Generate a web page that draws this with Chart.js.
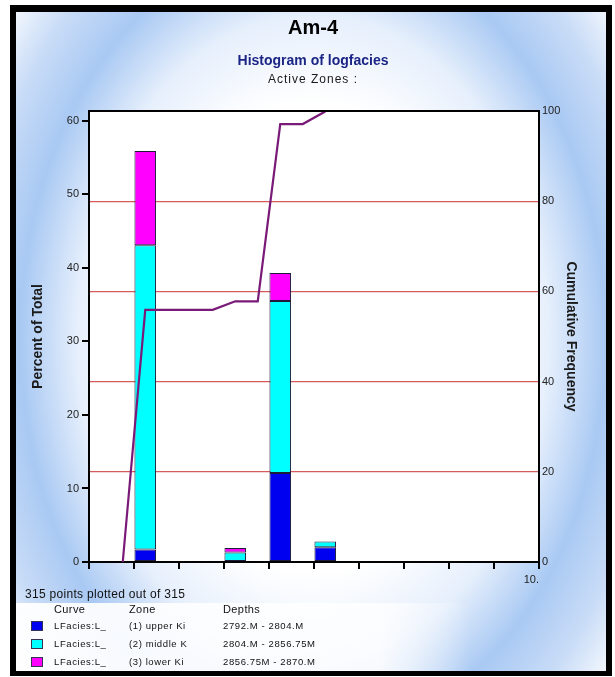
<!DOCTYPE html>
<html>
<head>
<meta charset="utf-8">
<script src="https://cdn.jsdelivr.net/npm/chart.js@4.4.1/dist/chart.umd.min.js"></script>
<style>
  html, body { margin: 0; padding: 0; background: #ffffff; }
  canvas { display: block; }
</style>
</head>
<body>
<canvas id="histo" width="615" height="677"></canvas>
<script>
// ---- chart content ----
const chartTitle = 'Am-4';
const chartSubtitle = 'Histogram of logfacies';
const zoneCaption = 'Active Zones :';
const pointsNote = '315 points plotted out of 315';

// facies classes that hold samples, and percent of total per zone
const faciesBins = [1, 3, 4, 5];
const upperKi  = [1.7, 0.0, 12.1, 2.0];
const middleK  = [41.4, 1.3, 23.4, 0.8];
const lowerKi  = [12.8, 0.6, 3.8, 0.0];

const curveNames = ['LFacies:L_', 'LFacies:L_', 'LFacies:L_'];
const zoneNames  = ['(1) upper Ki', '(2) middle K', '(3) lower Ki'];
const zoneDepths = ['2792.M - 2804.M', '2804.M - 2856.75M', '2856.75M - 2870.M'];
const legendHeaders = ['Curve', 'Zone', 'Depths'];

const xTickLabels = { 10: '10.' };
const leftAxisTitle = 'Percent of Total';
const rightAxisTitle = 'Cumulative Frequency';

// ---- styling ----
const zoneColors = ['#0000f0', '#00ffff', '#ff00ff'];
const FONT = "'Liberation Sans', Arial, Helvetica, sans-serif";
const BIN_FILL = 0.5; // each bar covers the first half of its class interval

// bars sit in the first half of each class interval
const barPoints = vals => faciesBins.map((b, i) => ({ x: b + BIN_FILL / 2, y: vals[i] }));

// cumulative frequency: rises across each bar from the previous total
const lastBin = Math.max(...faciesBins);
const binTotals = new Array(lastBin + 1).fill(0);
faciesBins.forEach((b, i) => { binTotals[b] = upperKi[i] + middleK[i] + lowerKi[i]; });
const cumulative = [];
let running = 0;
for (let b = 1; b <= lastBin; b++) {
  cumulative.push({ x: b - BIN_FILL / 2, y: running });
  running += binTotals[b];
  cumulative.push({ x: b + BIN_FILL / 2, y: running });
}

// page background, outer frame, titles
const backdrop = {
  id: 'backdrop',
  beforeDraw(chart) {
    const { ctx, width, height, chartArea: a } = chart;
    ctx.save();
    ctx.fillStyle = '#ffffff';
    ctx.fillRect(0, 0, width, height);
    ctx.fillStyle = '#000000';
    ctx.fillRect(10, 5, 602, 671);

    // soft blue glow inside the frame
    ctx.save();
    ctx.beginPath();
    ctx.rect(16, 12, 590, 659);
    ctx.clip();
    const cx = 313, cy = 338, rx = 380, ry = 520;
    ctx.translate(cx, cy);
    ctx.scale(1, ry / rx);
    const g = ctx.createRadialGradient(0, 0, 0, 0, 0, rx);
    g.addColorStop(0.0, '#ffffff');
    g.addColorStop(0.45, '#ffffff');
    g.addColorStop(0.62, '#e6effc');
    g.addColorStop(0.77, '#a9c9f3');
    g.addColorStop(0.9, '#c9dcf7');
    g.addColorStop(1.0, '#f1f6fd');
    ctx.fillStyle = g;
    ctx.fillRect(-rx, -rx, rx * 2, rx * 2);
    ctx.restore();

    // lighter panel under the legend rows
    const lg = ctx.createLinearGradient(16, 0, 470, 0);
    lg.addColorStop(0, 'rgba(255,255,255,0.95)');
    lg.addColorStop(0.8, 'rgba(255,255,255,0.8)');
    lg.addColorStop(1, 'rgba(255,255,255,0)');
    ctx.fillStyle = lg;
    ctx.fillRect(16, 603, 454, 68);

    // white plotting field
    ctx.fillStyle = '#ffffff';
    ctx.fillRect(a.left, a.top, a.right - a.left, a.bottom - a.top);

    ctx.textAlign = 'center';
    ctx.textBaseline = 'middle';
    ctx.fillStyle = '#000000';
    ctx.font = `bold 20px ${FONT}`;
    ctx.fillText(chartTitle, 313, 28);
    ctx.fillStyle = '#1b2585';
    ctx.font = `bold 14px ${FONT}`;
    ctx.fillText(chartSubtitle, 313, 61);
    ctx.fillStyle = '#1a1a1a';
    ctx.font = `12px ${FONT}`;
    ctx.letterSpacing = '1px';
    ctx.fillText(zoneCaption, 313, 80);
    ctx.restore();
  }
};

// closing edge of the plot box and the zone legend
const frameAndLegend = {
  id: 'frameAndLegend',
  afterDraw(chart) {
    const { ctx, chartArea: a } = chart;
    ctx.save();
    ctx.strokeStyle = '#000000';
    ctx.lineWidth = 2;
    ctx.beginPath();
    ctx.moveTo(a.left - 1, a.top);
    ctx.lineTo(a.right + 1, a.top);
    ctx.stroke();

    ctx.fillStyle = '#111111';
    ctx.textAlign = 'left';
    ctx.textBaseline = 'middle';
    ctx.font = `12px ${FONT}`;
    ctx.letterSpacing = '0.3px';
    ctx.fillText(pointsNote, 25, 595);

    const cols = [54, 129, 223];
    ctx.font = `11px ${FONT}`;
    ctx.letterSpacing = '0.4px';
    legendHeaders.forEach((h, i) => ctx.fillText(h, cols[i], 610));

    ctx.font = `9.5px ${FONT}`;
    ctx.letterSpacing = '0.6px';
    const rows = [626, 644, 662];
    zoneNames.forEach((z, i) => {
      const y = rows[i];
      ctx.fillStyle = zoneColors[i];
      ctx.fillRect(31, y - 5, 12, 10);
      ctx.strokeStyle = '#333355';
      ctx.lineWidth = 1;
      ctx.strokeRect(31.5, y - 4.5, 11, 9);
      ctx.fillStyle = '#111111';
      ctx.fillText(curveNames[i], cols[0], y);
      ctx.fillText(z, cols[1], y);
      ctx.fillText(zoneDepths[i], cols[2], y);
    });
    ctx.restore();
  }
};

const barStyle = (label, vals, color) => ({
  type: 'bar',
  label,
  data: barPoints(vals),
  backgroundColor: color,
  borderColor: '#1c1c3a',
  borderWidth: 1,
  borderSkipped: false,
  categoryPercentage: 1,
  barPercentage: 0.48,
  xAxisID: 'x',
  yAxisID: 'y',
  order: 2
});

new Chart(document.getElementById('histo'), {
  data: {
    datasets: [
      {
        type: 'line',
        label: rightAxisTitle,
        data: cumulative,
        xAxisID: 'x',
        yAxisID: 'y2',
        borderColor: '#7a1a78',
        borderWidth: 2.2,
        pointRadius: 0,
        tension: 0,
        fill: false,
        order: 1
      },
      barStyle(zoneNames[0], upperKi, zoneColors[0]),
      barStyle(zoneNames[1], middleK, zoneColors[1]),
      barStyle(zoneNames[2], lowerKi, zoneColors[2])
    ]
  },
  options: {
    responsive: false,
    animation: false,
    events: [],
    layout: { padding: { left: 30, right: 36, top: 111, bottom: 85 } },
    plugins: { legend: { display: false }, tooltip: { enabled: false } },
    scales: {
      x: {
        type: 'linear',
        min: 0,
        max: 10,
        offset: false,
        stacked: true,
        ticks: {
          stepSize: 1,
          autoSkip: false,
          maxRotation: 0,
          align: 'end',
          padding: 4,
          color: '#222222',
          font: { family: FONT, size: 11 },
          callback: v => xTickLabels[v] || ''
        },
        grid: { offset: false, drawOnChartArea: false, drawTicks: true, tickLength: 7, color: '#000000', lineWidth: 2 },
        border: { display: true, color: '#000000', width: 2 },
        afterFit: s => { s.height = 30; }
      },
      y: {
        position: 'left',
        min: 0,
        max: 61.35,
        stacked: true,
        ticks: {
          stepSize: 10,
          includeBounds: false,
          padding: 3,
          color: '#222222',
          font: { family: FONT, size: 11 }
        },
        grid: { drawOnChartArea: false, drawTicks: true, tickLength: 7, color: '#000000', lineWidth: 2 },
        border: { display: true, color: '#000000', width: 2 },
        title: {
          display: true,
          text: leftAxisTitle,
          color: '#1a1a1a',
          font: { family: FONT, size: 14, weight: 'bold' },
          padding: { top: 0, bottom: 0 }
        },
        afterFit: s => { s.width = 59; }
      },
      y2: {
        position: 'right',
        min: 0,
        max: 100,
        ticks: {
          stepSize: 20,
          padding: 3,
          color: '#222222',
          font: { family: FONT, size: 11 }
        },
        grid: {
          drawOnChartArea: true,
          drawTicks: false,
          lineWidth: 1.3,
          color: '#d65a5a'
        },
        border: { display: true, color: '#000000', width: 2 },
        title: {
          display: true,
          text: rightAxisTitle,
          color: '#1a1a1a',
          font: { family: FONT, size: 14, weight: 'bold' },
          padding: { top: 0, bottom: 0 }
        },
        afterFit: s => { s.width = 40; }
      }
    }
  },
  plugins: [backdrop, frameAndLegend]
});
</script>
</body>
</html>
